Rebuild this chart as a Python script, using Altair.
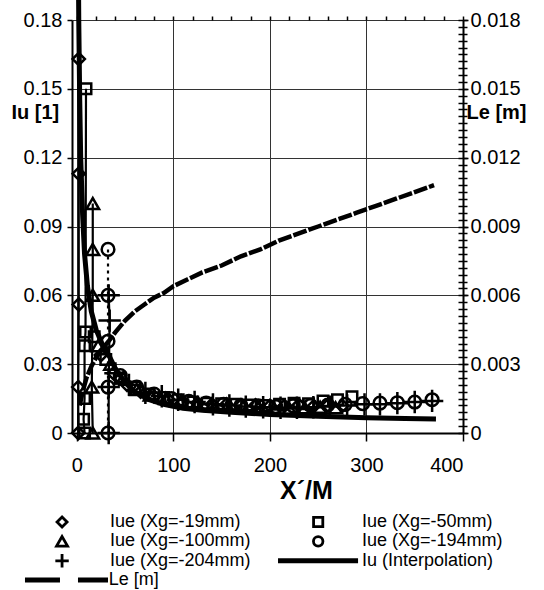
import altair as alt
import pandas as pd

FONT = "Liberation Sans"

# ---------------- data ----------------
# Iu interpolation curve (left axis)
iu_x = [0.6, 1, 1.5, 2, 3, 4, 6, 8, 11, 15, 20, 26, 33, 40, 50, 60, 75, 90, 110, 130, 160, 200, 250, 300, 340, 372]
iu_y = [0.32, 0.26, 0.21, 0.18, 0.145, 0.12, 0.095, 0.078, 0.064, 0.053, 0.045, 0.039, 0.034, 0.028, 0.022,
        0.018, 0.0145, 0.0125, 0.0108, 0.0099, 0.0090, 0.0081, 0.0073, 0.0067, 0.0063, 0.0061]

# Le [m] curve (right axis)
le_x = [3, 6, 10, 15, 20, 27, 33, 40, 50, 60, 70, 80, 90, 100, 115, 130, 150, 170, 190, 210, 230, 250,
        270, 290, 310, 330, 350, 370]
le_y = [0.0012, 0.0018, 0.0024, 0.0029, 0.0033, 0.0037, 0.0040, 0.0044, 0.0049, 0.0053, 0.0056, 0.0059,
        0.0061, 0.0064, 0.0067, 0.0070, 0.0073, 0.0077, 0.0080, 0.0084, 0.0087, 0.0090, 0.0093, 0.0096,
        0.0099, 0.0102, 0.0105, 0.0108]

# measured Iue series: near-source cluster + downstream tail
dia_cx = [2, 2, 2, 1.5, 1.5]
dia_cy = [0.163, 0.113, 0.056, 0.02, 0.0]
dia_tx = [25, 38, 52, 66, 80, 95, 110, 125, 140, 155, 170, 185, 200, 215, 230, 245, 260, 275]
dia_ty = [0.034, 0.026, 0.021, 0.018, 0.016, 0.0145, 0.0135, 0.013, 0.0125, 0.0125, 0.012, 0.012, 0.0118,
          0.0118, 0.0122, 0.0115, 0.012, 0.0118]

sq_cx = [9.5, 9, 8, 8, 7, 8]
sq_cy = [0.150, 0.044, 0.038, 0.015, 0.006, 0.0]
sq_tx = [18, 30, 45, 60, 75, 90, 105, 120, 135, 150, 165, 180, 195, 210, 225, 240, 255, 270, 285]
sq_ty = [0.042, 0.032, 0.024, 0.020, 0.017, 0.0155, 0.0145, 0.0135, 0.013, 0.0128, 0.0125, 0.0122, 0.012,
         0.0125, 0.013, 0.0128, 0.014, 0.0145, 0.0158]

tri_cx = [16.5, 16.5, 16.5, 15.5, 16.5]
tri_cy = [0.100, 0.080, 0.060, 0.020, 0.0]
tri_tx = [22, 35, 48, 62, 76, 92, 108, 124, 140, 156, 172, 188, 204, 220, 236, 252, 268]
tri_ty = [0.038, 0.030, 0.024, 0.019, 0.0165, 0.015, 0.014, 0.0128, 0.012, 0.0118, 0.0115, 0.011, 0.011,
          0.0108, 0.011, 0.0112, 0.011]

cir_cx = [32.3, 32.3, 32.3, 32.3, 32.3]
cir_cy = [0.080, 0.060, 0.040, 0.020, 0.0]
cir_tx = [45, 62, 80, 98, 116, 134, 152, 170, 188, 206, 224, 242, 260, 278, 296, 314, 332, 350, 368]
cir_ty = [0.025, 0.020, 0.017, 0.015, 0.0138, 0.013, 0.0125, 0.012, 0.0118, 0.0115, 0.0118, 0.012, 0.0122,
          0.0125, 0.0128, 0.013, 0.0132, 0.0135, 0.0145]

plus_cx = [33, 34, 33, 33]
plus_cy = [0.060, 0.049, 0.020, 0.0]
plus_tx = [40, 54, 71, 88, 105, 122, 141, 158, 175, 193, 211, 228, 245, 262, 280, 298, 314, 332, 350, 368]
plus_ty = [0.026, 0.021, 0.0175, 0.016, 0.0145, 0.0135, 0.0125, 0.012, 0.0115, 0.0112, 0.011, 0.011,
           0.0112, 0.0115, 0.012, 0.0125, 0.0125, 0.013, 0.0135, 0.014]

series_labels = ["Iue (Xg=-19mm)", "Iue (Xg=-50mm)", "Iue (Xg=-100mm)", "Iue (Xg=-194mm)",
                 "Iue (Xg=-204mm)", "Iu (Interpolation)", "Le [m]"]

# ---------------- style / layout ----------------
PLUS = "M-1,0L1,0M0,-1L0,1"
shapes = ["diamond", "square", "triangle-up", "circle", PLUS]
sizes = [150, 110, 160, 160, 500]
leg_sizes = [100, 85, 120, 90, 180]

XS = alt.Scale(domain=[-5, 400], nice=False, zero=False)
YS = alt.Scale(domain=[0, 0.18], nice=False, zero=False)
LS = alt.Scale(domain=[0, 0.018], nice=False, zero=False)

# legend layout (in data units of the main scales)
LEG_MARK_X = [-15.3, 250]
LEG_TEXT_X = [34.4, 295.4]
LEG_ROW_Y = [-0.0388, -0.0472, -0.0557, -0.0641]

common_axis = dict(domainColor="black", tickColor="black", labelColor="black", titleColor="black",
                   labelFont=FONT, titleFont=FONT)

x_major = alt.Axis(values=[0, 100, 200, 300, 400], format="d", title="X´/M", grid=True,
                   gridColor="#333333", gridWidth=1, tickSize=8, tickWidth=1.5, domainWidth=2,
                   labelFontSize=20, labelPadding=14, titleFontSize=25, titleFontWeight="bold",
                   titleX=234, titleY=57, titleAlign="center", titleBaseline="middle", **common_axis)
x_minor = alt.Axis(values=list(range(0, 401, 20)), labels=False, title=None, grid=False, domain=False,
                   tickSize=4, tickWidth=1.5, tickColor="black")
y_major = alt.Axis(values=[0, 0.03, 0.06, 0.09, 0.12, 0.15, 0.18], format=".2~f", title="Iu [1]",
                   titleAngle=0, titleX=-61, titleY=92, titleAlign="left", titleBaseline="middle",
                   titleFontSize=20, titleFontWeight="bold", grid=True, gridColor="#333333", gridWidth=1,
                   tickSize=5, tickWidth=1.5, domainWidth=2, labelFontSize=20, labelPadding=5, **common_axis)
y_minor = alt.Axis(values=[i * 0.003 for i in range(61)], labels=False, title=None, grid=False,
                   domain=False, tickSize=4, tickWidth=1.5, tickColor="black")
le_major = alt.Axis(orient="right", values=[0, 0.003, 0.006, 0.009, 0.012, 0.015, 0.018], format=".3~f",
                    title="Le [m]", titleAngle=0, titleX=3, titleY=92, titleAlign="left",
                    titleBaseline="middle", titleFontSize=20, titleFontWeight="bold", grid=False,
                    tickSize=5, tickWidth=1.5, domainWidth=2, labelFontSize=20, labelPadding=2,
                    **common_axis)
le_minor = alt.Axis(orient="left", offset=-391, values=[i * 0.0003 for i in range(61)], labels=False,
                    title=None, grid=False, domain=False, tickSize=5, tickWidth=1.5, tickColor="black")


def xy(chart, ax=None, ay=None):
    return chart.encode(x=alt.X("x:Q", scale=XS, axis=ax), y=alt.Y("y:Q", scale=YS, axis=ay))


iu_layers = []

# Iu interpolation line (carries the major axes)
iu_df = pd.DataFrame({"x": iu_x, "y": iu_y})
iu_layers.append(xy(alt.Chart(iu_df).mark_line(color="black", strokeWidth=5, clip=False), x_major, y_major))

clusters = [(dia_cx, dia_cy), (sq_cx, sq_cy), (tri_cx, tri_cy), (cir_cx, cir_cy), (plus_cx, plus_cy)]
tails = [(dia_tx, dia_ty), (sq_tx, sq_ty), (tri_tx, tri_ty), (cir_tx, cir_ty), (plus_tx, plus_ty)]

for k, ((cx, cy), (tx, ty)) in enumerate(zip(clusters, tails)):
    cdf = pd.DataFrame({"x": cx, "y": cy, "i": list(range(len(cx)))})
    dash = [3, 4] if k == 3 else [1, 0]
    iu_layers.append(
        alt.Chart(cdf).mark_line(color="black", strokeWidth=2.2, strokeDash=dash).encode(
            x=alt.X("x:Q", scale=XS, axis=None), y=alt.Y("y:Q", scale=YS, axis=None),
            order=alt.Order("i:Q"))
    )
    pdf = pd.DataFrame({"x": list(cx) + list(tx), "y": list(cy) + list(ty)})
    ax, ay = (x_minor, y_minor) if k == 0 else (None, None)
    iu_layers.append(xy(alt.Chart(pdf).mark_point(shape=shapes[k], size=sizes[k], filled=False,
                                                  color="black", strokeWidth=2.5, opacity=1), ax, ay))
    # legend marker
    ldf = pd.DataFrame({"x": [LEG_MARK_X[k % 2]], "y": [LEG_ROW_Y[k // 2]]})
    iu_layers.append(xy(alt.Chart(ldf).mark_point(shape=shapes[k], size=leg_sizes[k], filled=False,
                                                  color="black", strokeWidth=2.8, opacity=1, clip=False)))

# legend texts
txt_df = pd.DataFrame({
    "x": [LEG_TEXT_X[i % 2] for i in range(6)] + [33.0],
    "y": [LEG_ROW_Y[i // 2] for i in range(6)] + [LEG_ROW_Y[3]],
    "label": series_labels,
})
iu_layers.append(
    alt.Chart(txt_df).mark_text(align="left", baseline="middle", fontSize=18, font=FONT, color="black",
                                clip=False).encode(
        x=alt.X("x:Q", scale=XS, axis=None), y=alt.Y("y:Q", scale=YS, axis=None), text="label:N")
)
# legend line symbols
iu_sym = pd.DataFrame({"x": [208.4, 291.3], "y": [LEG_ROW_Y[2], LEG_ROW_Y[2]]})
iu_layers.append(xy(alt.Chart(iu_sym).mark_line(color="black", strokeWidth=5, clip=False)))
le_sym = pd.DataFrame({"x": [-53.7, 32.3], "y": [LEG_ROW_Y[3], LEG_ROW_Y[3]]})
iu_layers.append(xy(alt.Chart(le_sym).mark_line(color="black", strokeWidth=5, strokeDash=[35, 18],
                                                clip=False)))

iu_group = alt.layer(*iu_layers).resolve_axis(x="independent", y="independent")

le_df = pd.DataFrame({"x": le_x, "y": le_y})
le_line = alt.Chart(le_df).mark_line(color="black", strokeWidth=4.5, strokeDash=[14, 2]).encode(
    x=alt.X("x:Q", scale=XS, axis=None), y=alt.Y("y:Q", scale=LS, axis=le_major))
le_minor_carrier = alt.Chart(le_df).mark_point(opacity=0).encode(
    x=alt.X("x:Q", scale=XS, axis=None), y=alt.Y("y:Q", scale=LS, axis=le_minor))
le_group = alt.layer(le_line, le_minor_carrier).resolve_axis(y="independent")

chart = (
    alt.layer(iu_group, le_group)
    .resolve_scale(y="independent")
    .properties(width=391, height=413,
                autosize=alt.AutoSizeParams(type="none"),
                padding={"left": 72, "top": 20, "right": 81, "bottom": 157},
                background="white")
    .configure(font=FONT)
    .configure_view(stroke="transparent")
)

chart.save("out.html", embed_options={"renderer": "svg", "actions": False})
